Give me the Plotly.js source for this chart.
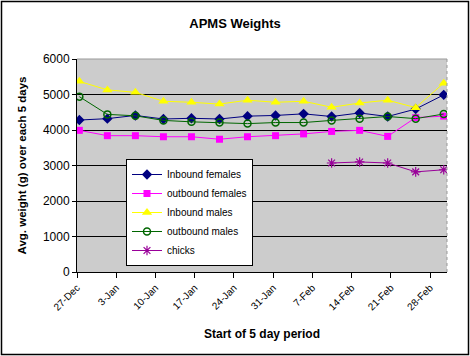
<!DOCTYPE html>
<html><head><meta charset="utf-8">
<script src="https://cdn.plot.ly/plotly-3.0.1.min.js"></script>
<style>html,body{margin:0;padding:0;background:#fff}#c{width:470px;height:356px}</style>
</head><body><div id="c"></div>
<script>
// Start dates of each 5 day period
const periodDates = ['2002-12-27','2003-01-01','2003-01-06','2003-01-11','2003-01-16','2003-01-21','2003-01-26','2003-01-31','2003-02-05','2003-02-10','2003-02-15','2003-02-20','2003-02-25','2003-03-02'];
const inboundFemales  = [4280,4320,4410,4310,4330,4310,4390,4410,4455,4380,4480,4380,4590,4990];
const outboundFemales = [3990,3840,3840,3810,3810,3740,3810,3840,3890,3960,3990,3820,4350,4390];
const inboundMales    = [5370,5130,5060,4810,4780,4730,4840,4780,4810,4640,4760,4840,4630,5320];
const outboundMales   = [4940,4440,4400,4270,4230,4210,4180,4210,4210,4270,4320,4380,4320,4450];
const chicks          = [null,null,null,null,null,null,null,null,null,3070,3100,3070,2820,2880];
const tickDates  = ['2002-12-27','2003-01-03','2003-01-10','2003-01-17','2003-01-24','2003-01-31','2003-02-07','2003-02-14','2003-02-21','2003-02-28'];
const tickLabels = ['27-Dec','3-Jan','10-Jan','17-Jan','24-Jan','31-Jan','7-Feb','14-Feb','21-Feb','28-Feb'];

const xs = periodDates.map(d => d + ' 10:00');
const F = 'Arial, "Liberation Sans", sans-serif';
function tr(name, y, color, symbol, size, mcolor, lw){
  return {type:'scatter', mode:'lines+markers', x:xs, y:y, name:name,
    line:{color:color, width:1}, connectgaps:false,
    marker:{symbol:symbol, size:size, color:mcolor||color, line:{color:color, width:lw||0}}};
}
const data = [
  tr('Inbound females', inboundFemales, '#000080', 'diamond', 8),
  tr('outbound females', outboundFemales, '#ff00ff', 'square', 7),
  tr('Inbound males', inboundMales, '#ffff00', 'triangle-up', 9),
  tr('outbound males', outboundMales, '#006600', 'circle-open', 7, '#006600', 1.5),
  tr('chicks', chicks, '#990099', 'asterisk-open', 8, '#990099', 1.2)
];
const L=77, R=23, T=59, B=84, W=470-L-R, H=356-T-B;
const px = v => (v-L)/W, py = v => (356-B-v)/H;
const layout = {
  width:470, height:356, margin:{l:L, r:R, t:T, b:B},
  paper_bgcolor:'#ffffff', plot_bgcolor:'#cccccc',
  font:{family:F, color:'#000'},
  showlegend:true,
  title:{text:'<b>APMS Weights</b>', font:{size:13, family:F}, x:0.5, xanchor:'center', y:1-23/356, yanchor:'middle'},
  xaxis:{type:'date', range:['2002-12-27','2003-03-03'], tickvals:tickDates, ticktext:tickLabels,
    tickangle:-45, tickfont:{size:10}, ticks:'outside', ticklen:5, tickcolor:'#000',
    showline:true, linecolor:'#000', linewidth:1, showgrid:false, zeroline:false,
    title:{text:'<b>Start of 5 day period</b>', font:{size:12}, standoff:17}},
  yaxis:{range:[0,6000], tickvals:[0,1000,2000,3000,4000,5000,6000], tickfont:{size:12},
    ticks:'outside', ticklen:4, tickcolor:'#000', showline:true, linecolor:'#000', linewidth:1,
    showgrid:true, gridcolor:'#000', gridwidth:1, zeroline:false,
    title:{text:'<b>Avg. weight (g) over each 5 days</b>', font:{size:11.5}, standoff:13}},
  legend:{x:px(126), y:py(159), xanchor:'left', yanchor:'top', bgcolor:'#ffffff',
    bordercolor:'#000', borderwidth:1, font:{size:10, family:F}, tracegroupgap:0, itemwidth:30},
  shapes:[
    {type:'line', xref:'paper', yref:'paper', x0:0, x1:1, y0:1, y1:1, line:{color:'#999', width:1}},
    {type:'line', xref:'paper', yref:'paper', x0:1, x1:1, y0:0, y1:1, line:{color:'#999', width:1, dash:'dot'}},
    {type:'rect', xref:'paper', yref:'paper', x0:px(1.5), x1:px(468.5), y0:py(354.5), y1:py(1.5), line:{color:'#000', width:1.5}, fillcolor:'rgba(0,0,0,0)'}
  ]
};
Plotly.newPlot('c', data, layout, {staticPlot:true, displayModeBar:false});
</script></body></html>
